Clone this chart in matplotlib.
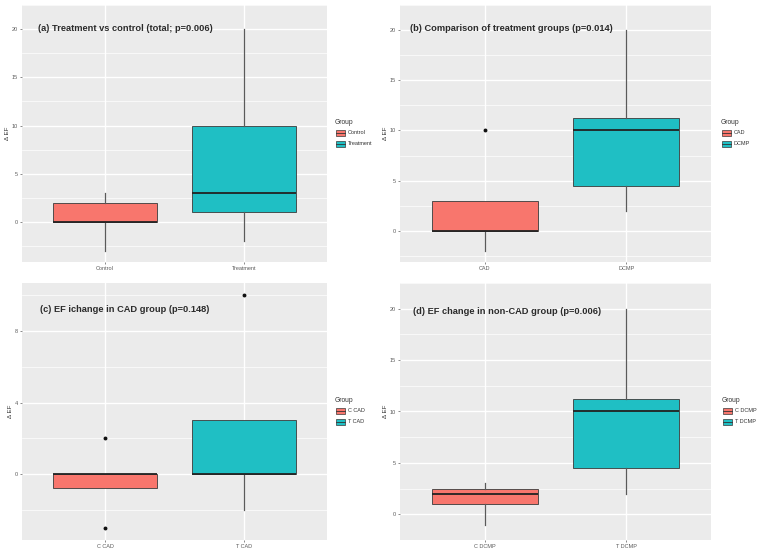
import numpy as np
import matplotlib
matplotlib.use('Agg')
import matplotlib.pyplot as plt
from matplotlib.patches import Rectangle

# ---- data (box statistics) ----
titles = ['(a) Treatment vs control (total; p=0.006)',
          '(b) Comparison of treatment groups (p=0.014)',
          '(c) EF ichange in CAD group (p=0.148)',
          '(d) EF change in non-CAD group (p=0.006)']
groups_a = ['Control', 'Treatment']
groups_b = ['CAD', 'DCMP']
groups_c = ['C CAD', 'T CAD']
groups_d = ['C DCMP', 'T DCMP']

med_a = [0, 3];      q1_a = [0, 1];       q3_a = [2, 10]
wlo_a = [-3, -2];    whi_a = [3, 20];     out_a = [[], []]
med_b = [0, 10];     q1_b = [0, 4.5];     q3_b = [3, 11.25]
wlo_b = [-2, 2];     whi_b = [3, 20];     out_b = [[10], []]
med_c = [0, 0];      q1_c = [-0.75, 0];   q3_c = [0, 3]
wlo_c = [-0.75, -2]; whi_c = [0, 3];      out_c = [[-3, 2], [10]]
med_d = [2, 10];     q1_d = [1, 4.5];     q3_d = [2.5, 11.25]
wlo_d = [-1, 2];     whi_d = [3, 20];     out_d = [[], []]

ticks_a = [0, 5, 10, 15, 20]
ticks_c = [0, 4, 8]

red = '#F8766D'
cyan = '#1FBFC4'
W, H = 757, 560

fig = plt.figure(figsize=(W/100, H/100), dpi=100)
plt.rcParams['font.family'] = ['Liberation Sans', 'DejaVu Sans']

def px_axes(x0, x1, y0, y1):
	return fig.add_axes([x0/W, 1 - y1/H, (x1-x0)/W, (y1-y0)/H])

def fig_xy(x, y):
	return x/W, 1 - y/H

def draw_panel(ax, groups, med, q1, q3, wlo, whi, outs, ticks, title, tpos):
	stats = []
	for ii in range(len(groups)):
		stats.append(dict(med=med[ii], q1=q1[ii], q3=q3[ii], whislo=wlo[ii], whishi=whi[ii], fliers=outs[ii], label=groups[ii]))
	ax.set_facecolor('#EBEBEB')
	bp = ax.bxp(stats, positions=[1, 2], widths=0.75, patch_artist=True, showcaps=False,
		boxprops=dict(edgecolor='#3a3a3a', linewidth=0.6),
		medianprops=dict(color='#222222', linewidth=1.3),
		whiskerprops=dict(color='#5a5a5a', linewidth=0.9),
		flierprops=dict(marker='o', markerfacecolor='#111111', markeredgecolor='#111111', markersize=1.8))
	for patch, col in zip(bp['boxes'], [red, cyan]):
		patch.set_facecolor(col)
	allv = wlo + whi + [v for o in outs for v in o]
	lo, hi = min(allv), max(allv)
	pad = (hi - lo) * 0.05
	ax.set_ylim(lo - pad, hi + pad)
	ax.set_xlim(0.4, 2.6)
	ax.set_yticks(ticks)
	step = ticks[1] - ticks[0]
	minor = np.arange(ticks[0] - step/2, ticks[-1] + step, step)
	ax.set_yticks(minor, minor=True)
	ax.set_xticks([1, 2])
	ax.set_xticklabels(groups)
	ax.grid(which='major', color='white', linewidth=1.0)
	ax.grid(which='minor', axis='y', color='white', linewidth=0.5)
	ax.set_axisbelow(True)
	for s in ax.spines.values():
		s.set_visible(False)
	ax.tick_params(axis='both', which='major', labelsize=4, colors='#5a5a5a', length=1.5, width=0.5, pad=1.5)
	ax.tick_params(axis='both', which='minor', length=0)
	ax.set_ylabel('\u0394 EF', fontsize=4.5, color='#333333', labelpad=1)
	ax.text(tpos[0], tpos[1], title, transform=ax.transAxes, ha='left', va='center',
		fontsize=6.7, fontweight='bold', color='#2a2a2a')

def draw_legend(x, y, groups):
	tx, ty = fig_xy(x, y)
	fig.text(tx, ty, 'Group', fontsize=4.8, color='#333333', ha='left', va='center')
	for ii, (g, col) in enumerate(zip(groups, [red, cyan])):
		yy = y + 11 + ii * 10.5
		bx, by = fig_xy(x + 1, yy + 3)
		fig.patches.append(Rectangle((bx, by), 9/W, 6/H, transform=fig.transFigure,
			facecolor=col, edgecolor='#3a3a3a', linewidth=0.5))
		lx0, ly = fig_xy(x + 1, yy)
		lx1, _ = fig_xy(x + 10, yy)
		fig.lines.append(plt.Line2D([lx0, lx1], [ly, ly], transform=fig.transFigure, color='#333333', linewidth=0.6))
		ltx, lty = fig_xy(x + 13, yy)
		fig.text(ltx, lty, g, fontsize=4, color='#333333', ha='left', va='center')

ax_a = px_axes(22, 327, 5, 262)
ax_b = px_axes(400, 711, 5, 262)
ax_c = px_axes(22, 327, 283, 540)
ax_d = px_axes(400, 711, 283, 540)

draw_panel(ax_a, groups_a, med_a, q1_a, q3_a, wlo_a, whi_a, out_a, ticks_a, titles[0], (0.052, 0.91))
draw_panel(ax_b, groups_b, med_b, q1_b, q3_b, wlo_b, whi_b, out_b, ticks_a, titles[1], (0.032, 0.91))
draw_panel(ax_c, groups_c, med_c, q1_c, q3_c, wlo_c, whi_c, out_c, ticks_c, titles[2], (0.059, 0.895))
draw_panel(ax_d, groups_d, med_d, q1_d, q3_d, wlo_d, whi_d, out_d, ticks_a, titles[3], (0.042, 0.89))

draw_legend(335, 122, groups_a)
draw_legend(721, 122, groups_b)
draw_legend(335, 400, groups_c)
draw_legend(722, 400, groups_d)

fig.savefig('out.png', dpi=100)
